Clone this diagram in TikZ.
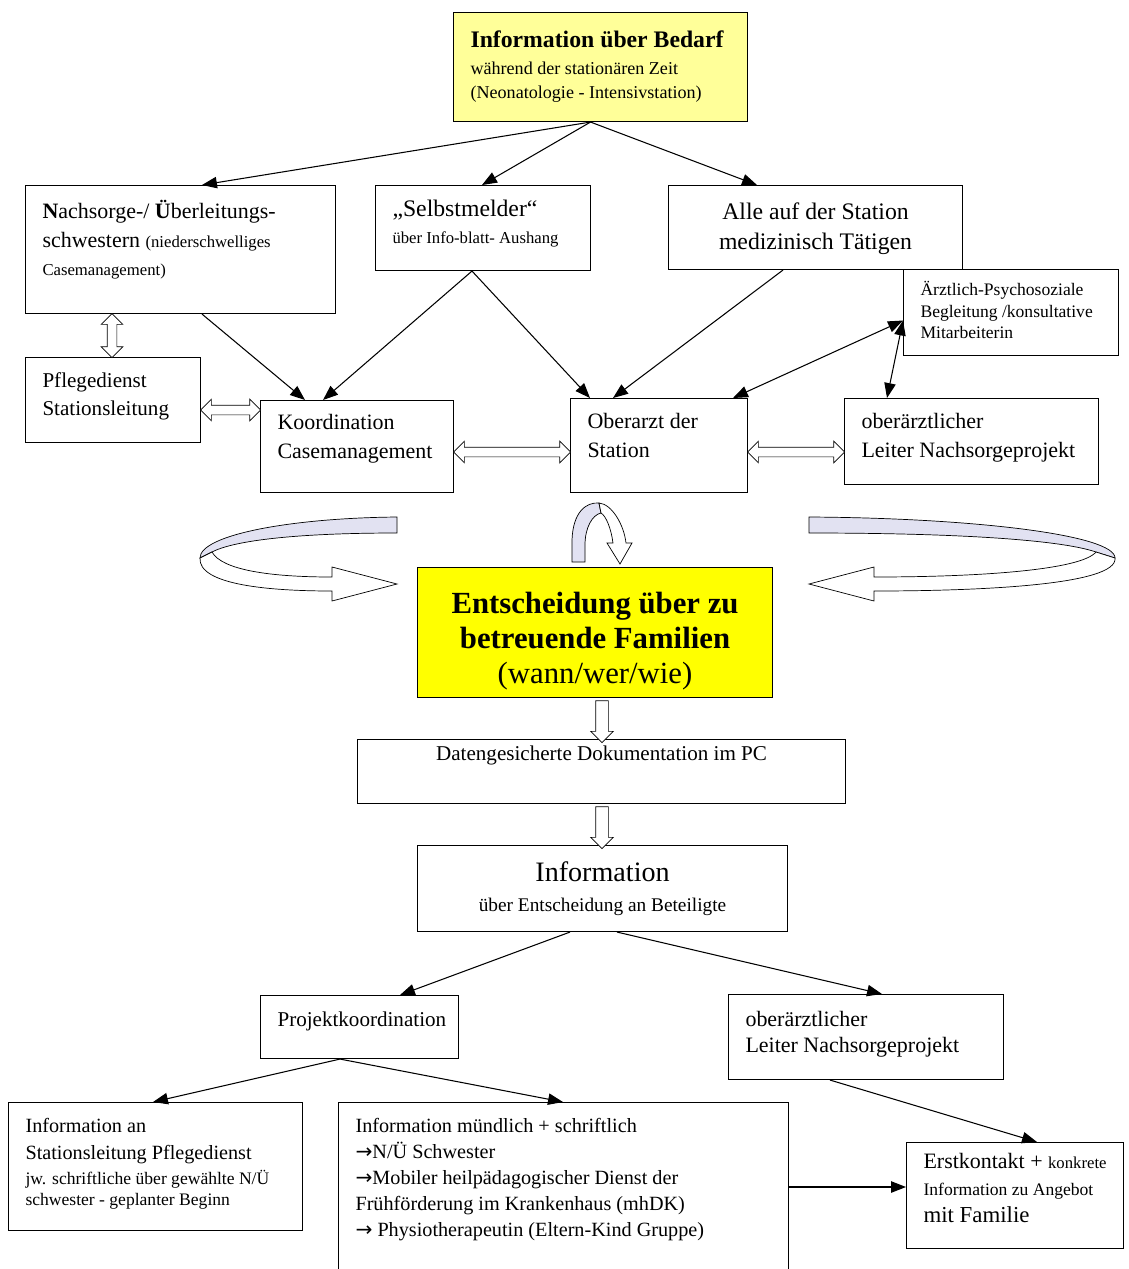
\documentclass[tikz,border=0pt]{standalone}
\usepackage{fontspec}
\setmainfont{Liberation Serif}
\newfontfamily\symfont{DejaVu Sans}
\usetikzlibrary{arrows.meta,shapes.arrows,calc}

\definecolor{topyellow}{RGB}{255,255,153}
\definecolor{decyellow}{RGB}{255,255,0}
\definecolor{ribbon}{RGB}{226,226,242}

\newdimen\px \px=0.02cm
\newcommand{\fbig}{\fontsize{12.5}{16.5}\selectfont}
\newcommand{\fnorm}{\fontsize{12}{14.8}\selectfont}
\newcommand{\fsmall}{\fontsize{9.5}{13}\selectfont}
\newcommand{\pfeil}{{\symfont →}}
% width, height, top gap (px), text
\newcommand{\boxtext}[4]{\parbox[c][#2\px][t]{\dimexpr#1\px-34\px\relax}{\everypar{\strut}\vspace*{#3\px}#4}}

\begin{document}
\begin{tikzpicture}[x=0.02cm,y=-0.02cm,>={Triangle[length=8.5pt,width=6.5pt]},
                    semithick]
  \tikzstyle{infobox}=[draw,anchor=north west,inner xsep=17\px,inner ysep=0pt]
  \tikzstyle{dblarrow}=[double arrow,draw,fill=white,thin,inner sep=4.5\px,double arrow head extend=6\px]
  \tikzstyle{downarrow}=[single arrow,draw,fill=white,thin,inner sep=6\px,single arrow head extend=5\px,rotate=-90]
  \tikzstyle{back}=[draw,thin,fill=ribbon]
  \tikzstyle{front}=[draw,thin,fill=white]

  \useasboundingbox (0,0) rectangle (1129,1269);
  \clip (0,0) rectangle (1129,1269);
  \fill[white] (0,0) rectangle (1129,1269);

  \node[infobox,fill=topyellow] (bedarf) at (453,12) {\boxtext{294}{109}{14}{\raggedright
     {\fontsize{13.5}{17}\selectfont\bfseries\mbox{Information über Bedarf}\par}
     {\fontsize{10.3}{13.5}\selectfont während der stationären Zeit\par (Neonatologie - Intensivstation)\par}}};
  \node[infobox] (nach) at (25,185) {\boxtext{310}{128}{13}{\raggedright\fbig
     \textbf{N}achsorge-/ \textbf{Ü}berleitungs-\par
     schwestern {\fsmall (niederschwelliges}\par
     {\fontsize{9.5}{14}\selectfont Casemanagement)\par}}};
  \node[infobox] (selbst) at (375,185) {\boxtext{215}{85}{11}{\raggedright
     {\fontsize{13.5}{16.5}\selectfont „Selbstmelder“\par}{\fsmall über Info-blatt- Aushang\par}}};
  \node[infobox] (alle) at (668,185) {\boxtext{294}{84}{12}{\centering
     \fontsize{13.5}{17.5}\selectfont Alle auf der Station\par medizinisch Tätigen\par}};
  \node[infobox] (aerzt) at (903,269) {\boxtext{215}{86}{11}{\raggedright
     \fontsize{10}{12.3}\selectfont Ärztlich-Psychosoziale\par Begleitung /konsultative\par Mitarbeiterin\par}};
  \node[infobox] (pfl) at (25,357) {\boxtext{175}{85}{10}{\raggedright
     \fontsize{12}{16}\selectfont Pflegedienst\par Stationsleitung\par}};
  \node[infobox] (koord) at (260,400) {\boxtext{193}{92}{9}{\raggedright\fbig Koordination\par Casemanagement\par}};
  \node[infobox] (oberarzt) at (570,398) {\boxtext{177}{94}{10}{\raggedright\fbig Oberarzt der\par Station\par}};
  \node[infobox] (leiter) at (844,398) {\boxtext{254}{86}{10}{\raggedright\fbig oberärztlicher\par Leiter Nachsorgeprojekt\par}};

  \node[infobox,fill=decyellow] (decide) at (417,567) {\boxtext{355}{130}{21}{\centering
     \fontsize{17.5}{20}\selectfont\textbf{Entscheidung über zu}\par\textbf{betreuende Familien}\par(wann/wer/wie)\par}};
  \node[infobox] (daten) at (357,739) {\boxtext{488}{64}{3}{\centering\fnorm Datengesicherte Dokumentation im PC\par}};
  \node[infobox] (info) at (417,845) {\boxtext{370}{86}{13}{\centering
     {\fontsize{16}{19}\selectfont Information\par}{\fontsize{11}{14.7}\selectfont über Entscheidung an Beteiligte\par}}};

  \node[infobox] (proj) at (260,995) {\boxtext{198}{63}{13}{\raggedright\fnorm Projektkoordination\par}};
  \node[infobox] (leiter2) at (728,994) {\boxtext{275}{85}{14}{\raggedright
     \fontsize{12.5}{14.8}\selectfont oberärztlicher\par Leiter Nachsorgeprojekt\par}};
  \node[infobox] (stat2) at (8,1102) {\boxtext{294}{128}{12}{\raggedright
     {\fontsize{11.5}{15}\selectfont Information an\par Stationsleitung Pflegedienst\par}
     {\fontsize{10}{12.2}\selectfont jw. schriftliche über gewählte N/Ü\par schwester - geplanter Beginn\par}}};
  \node[infobox] (muend) at (338,1102) {\boxtext{450}{200}{12}{\raggedright
     \fontsize{11.5}{14.8}\selectfont Information mündlich + schriftlich\par
     \pfeil N/Ü Schwester\par
     \pfeil Mobiler heilpädagogischer Dienst der\par
     Frühförderung im Krankenhaus (mhDK)\par
     \pfeil\ Physiotherapeutin (Eltern-Kind Gruppe)\par}};
  \node[infobox] (erst) at (906,1142) {\boxtext{217}{106}{6}{\raggedright
     {\fbig\mbox{Erstkontakt + {\fsmall konkrete}}\par}
     {\fontsize{10}{13.5}\selectfont Information zu Angebot\par}
     {\fontsize{13}{15}\selectfont mit Familie\par}}};

  % hollow arrows
  \node[dblarrow,minimum height=44\px,rotate=90] (dv) at ($(112,0 |- nach.south)!.5!(112,0 |- pfl.north)$) {};
  \node[dblarrow,minimum height=60\px] (dh1) at ($(pfl.east |- 0,410)!.5!(koord.west |- 0,410)$) {};
  \node[dblarrow,minimum height=117\px] (dh2) at ($(koord.east |- 0,452)!.5!(oberarzt.west |- 0,452)$) {};
  \node[dblarrow,minimum height=97\px] (dh3) at ($(oberarzt.east |- 0,452)!.5!(leiter.west |- 0,452)$) {};
  \node[downarrow,minimum height=42\px] (down1) at ($(602,0 |- decide.south)!.5!(602,0 |- daten.north)$) {};
  \node[downarrow,minimum height=42\px] (down2) at ($(602,0 |- daten.south)!.5!(602,0 |- info.north)$) {};

  % curved arrows round the decision
  \path[back] (397,517) .. controls (290,518) and (200,535) .. (200,558) -- (212,552)
     .. controls (235,540) and (300,533) .. (397,533) -- cycle;
  \path[front] (200,558) .. controls (198,585) and (270,591) .. (332,591) -- (332,601) -- (397,584)
     -- (332,567) -- (332,577) .. controls (270,577) and (222,570) .. (212,552) -- cycle;
  \path[back] (809,517) .. controls (975,518) and (1115,535) .. (1115,558) -- (1096,552)
     .. controls (1061,540) and (960,533) .. (809,533) -- cycle;
  \path[front] (1115,558) .. controls (1118,585) and (980,591) .. (874,591) -- (874,601) -- (809,584)
     -- (874,567) -- (874,577) .. controls (980,577) and (1081,570) .. (1096,552) -- cycle;
  \path[back] (572,562) -- (572,540) .. controls (573,512) and (586,502) .. (599,503) -- (601,513)
     .. controls (592,515) and (585,528) .. (585,545) -- (585,562) -- cycle;
  \path[front] (599,503) .. controls (612,504) and (624,525) .. (626,543) -- (632,543) -- (620,564)
     -- (607,543) -- (613,543) .. controls (611,528) and (606,516) .. (601,513) -- cycle;

  \coordinate (src) at ($(bedarf.south)+(-10,0)$);
  \coordinate (aw) at ($(aerzt.west)+(0,8)$);
  \coordinate (psrc) at (340,0 |- proj.south);

  \path[->] (src) edge (202,0 |- nach.north)
        (src) edge (482,0 |- selbst.north)
        (src) edge (757,0 |- alle.north)
        (202,0 |- nach.south) edge (305,0 |- koord.north)
        (472,0 |- selbst.south) edge (323,0 |- koord.north)
        (472,0 |- selbst.south) edge (590,0 |- oberarzt.north)
        (783,0 |- alle.south) edge (613,0 |- oberarzt.north);
  \path[<->] (aw) edge (733,0 |- oberarzt.north)
        (aw) edge (887,0 |- leiter.north);
  \path[->] (570,0 |- info.south) edge (400,0 |- proj.north)
        (617,0 |- info.south) edge (882,0 |- leiter2.north)
        (psrc) edge (153,0 |- stat2.north)
        (psrc) edge (563,0 |- muend.north)
        (muend.east |- 0,1187) edge (erst.west |- 0,1187)
        (830,0 |- leiter2.south) edge (1037,0 |- erst.north);
\end{tikzpicture}
\end{document}
